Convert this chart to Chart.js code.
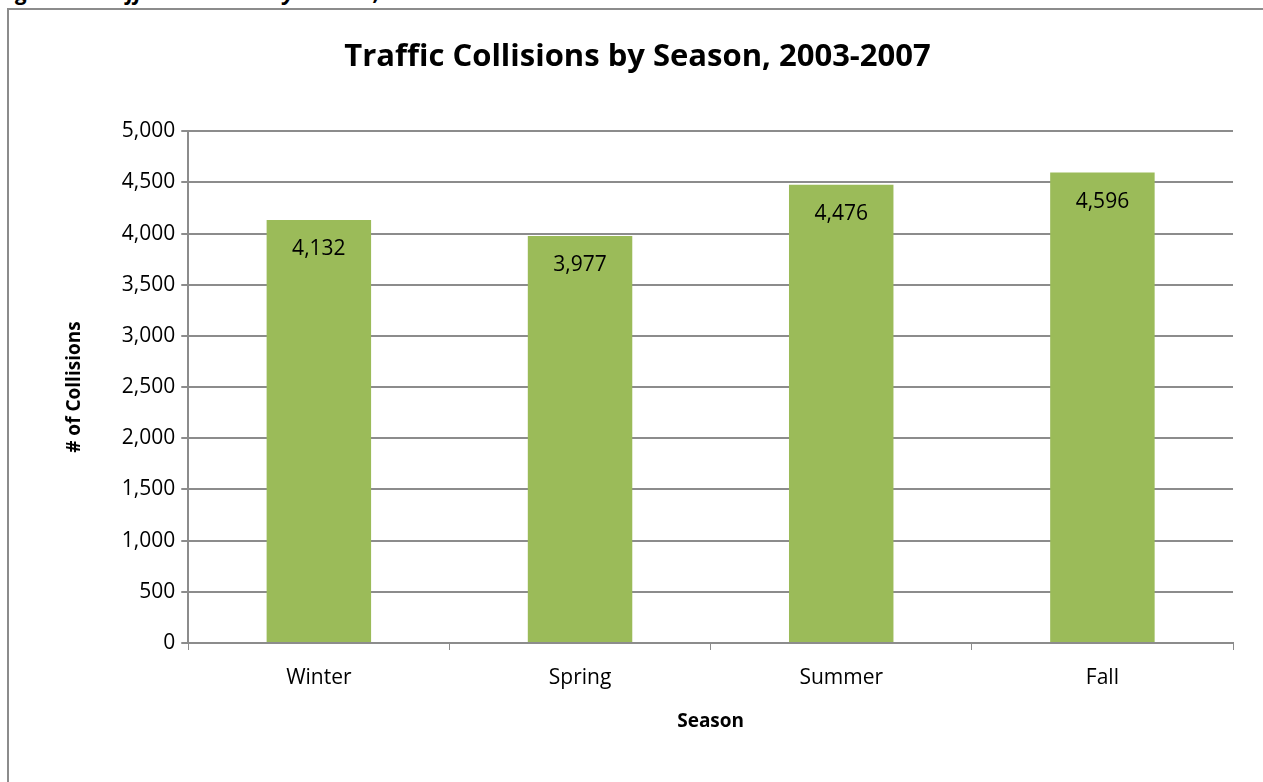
<!DOCTYPE html>
<html>
<head>
<meta charset="utf-8">
<script src="https://cdn.jsdelivr.net/npm/chart.js@4"></script>
<style>
  body { margin: 0; background: #fff; }
  #wrap { position: relative; width: 1263px; height: 782px; overflow: hidden; }
  #frame { position: absolute; left: 7px; top: 8px; width: 1300px; height: 900px; border: 2px solid #8c8c8c; box-sizing: border-box; }
  #caption { position: absolute; left: -2px; top: -24px; font: bold italic 22px "Open Sans", sans-serif; color: #000; white-space: nowrap; }
  #myChart { position: absolute; left: 0; top: 0; }
</style>
</head>
<body>
<div id="wrap">
  <div id="caption">Figure 3: Traffic Collisions by Season, 2003-2007</div>
  <div id="frame"></div>
  <canvas id="myChart" width="1263" height="782"></canvas>
</div>
<script>
const seasons = ['Winter', 'Spring', 'Summer', 'Fall'];
const collisions = [4132, 3977, 4476, 4596];
const yTicks = [0, 500, 1000, 1500, 2000, 2500, 3000, 3500, 4000, 4500, 5000];

const fontFamily = '"Open Sans", sans-serif';

// etiquetas de valor dentro de la barra
const valueLabels = {
    id: 'valueLabels',
    afterDatasetsDraw(chart) {
        const ctx = chart.ctx;
        const meta = chart.getDatasetMeta(0);
        ctx.save();
        ctx.font = '21px ' + fontFamily;
        ctx.fillStyle = '#000';
        ctx.textAlign = 'center';
        ctx.textBaseline = 'middle';
        meta.data.forEach((bar, i) => {
            ctx.fillText(collisions[i].toLocaleString('en-US'), bar.x, bar.y + 29);
        });
        ctx.restore();
    }
};

const barConfig = {
    type: 'bar',
    data: {
        labels: seasons,
        datasets: [{
            data: collisions,
            backgroundColor: '#9bbb59',
            barPercentage: 0.4,
            categoryPercentage: 1.0
        }]
    },
    options: {
        responsive: false,
        animation: false,
        layout: { padding: { top: 0, left: 42, right: 30, bottom: 49 } },
        plugins: {
            legend: { display: false },
            tooltip: { enabled: false },
            title: {
                display: true,
                text: 'Traffic Collisions by Season, 2003-2007',
                color: '#000',
                font: { family: fontFamily, size: 31, weight: 'bold' },
                padding: { top: 39, bottom: 55 }
            }
        },
        scales: {
            x: {
                grid: { offset: true, drawOnChartArea: false, drawTicks: true, tickLength: 7, color: '#8c8c8c' },
                border: { color: '#8c8c8c', width: 2 },
                ticks: { color: '#000', font: { family: fontFamily, size: 21 }, padding: 15 },
                title: { display: true, text: 'Season', color: '#000', font: { family: fontFamily, size: 19, weight: 'bold' }, padding: { top: 5, bottom: 0 } }
            },
            y: {
                min: 0,
                max: 5000,
                afterBuildTicks(axis) { axis.ticks = yTicks.map(v => ({ value: v })); },
                grid: { color: '#8c8c8c', lineWidth: 2, tickLength: 7 },
                border: { color: '#8c8c8c', width: 2 },
                ticks: {
                    color: '#000',
                    font: { family: fontFamily, size: 21 },
                    padding: 6,
                    callback: v => v.toLocaleString('en-US')
                },
                title: { display: true, text: '# of Collisions', color: '#000', font: { family: fontFamily, size: 19, weight: 'bold' }, padding: { top: 21, bottom: 30 } }
            }
        }
    },
    plugins: [valueLabels]
};

var barChart = new Chart(document.getElementById('myChart'), barConfig);
</script>
</body>
</html>
